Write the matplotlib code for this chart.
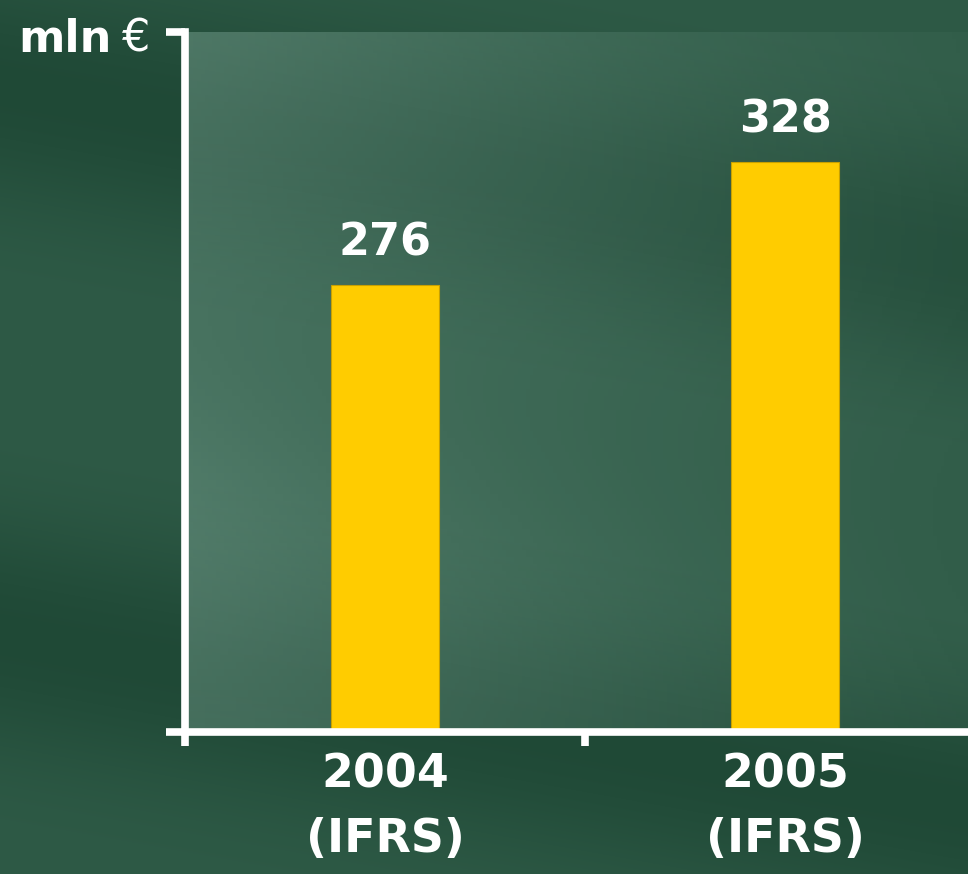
import numpy as np
import matplotlib.pyplot as plt
from matplotlib.ticker import FixedLocator

anni = ['2004\n(IFRS)', '2005\n(IFRS)']
valori = [276, 328]
etichette = ['276', '328']

GIALLO = '#ffcc00'
BIANCO = 'white'

fig = plt.figure(figsize=(9.68, 8.74), dpi=100)

# sfondo verde con qualche striatura quasi orizzontale
bg = fig.add_axes([0, 0, 1, 1], zorder=-10)
h, w = 874, 968
yy, xx = np.mgrid[0:h, 0:w]
diag = (yy - 0.18 * xx) / h
base = np.array([46, 90, 70]) / 255.0
scuro = np.array([22, 62, 44]) / 255.0
t = 0.5 + 0.5 * np.sin(diag * 10.0 + 0.6)
t = t ** 2
img = base[None, None, :] * (1 - t[..., None] * 0.6) + scuro[None, None, :] * (t[..., None] * 0.6)
img = np.clip(img, 0, 1)
bg.imshow(img, aspect='auto', extent=[0, 1, 0, 1], origin='upper')
bg.axis('off')

ax = fig.add_axes([185 / 968, 142 / 874, 783 / 968, 700 / 874])
ax.set_facecolor('none')

# velatura chiara dell'area del grafico
gy, gx = np.mgrid[0:100, 0:200]
alpha = 0.28 * (1 - gx / 200.0) ** 1.2 + 0.06
alpha = alpha * (0.85 + 0.15 * np.cos((gy / 100.0 - 0.3 * gx / 200.0) * 8))
over = np.ones((100, 200, 4))
over[..., 0] = 0.62
over[..., 1] = 0.78
over[..., 2] = 0.72
over[..., 3] = alpha
ax.imshow(over, extent=[0, 1, 0, 1], transform=ax.transAxes, aspect='auto', zorder=0)

X = np.arange(len(valori))
ymin, ymax = 87, 383
ax.bar(X, [v - ymin for v in valori], bottom=ymin, width=0.27, color=GIALLO,
       edgecolor='#c8a000', linewidth=0.8, zorder=2)

for x, v, lab in zip(X, valori, etichette):
    ax.annotate(lab, (x, v), xytext=(0, 15), textcoords='offset points',
                ha='center', va='bottom', color=BIANCO, fontsize=32,
                fontweight='bold', family='DejaVu Sans')

ax.set_xlim(-0.5, -0.5 + 783 / 400)
ax.set_ylim(ymin, ymax)

for s in ['top', 'right']:
    ax.spines[s].set_visible(False)
for s in ['left', 'bottom']:
    ax.spines[s].set_color(BIANCO)
    ax.spines[s].set_linewidth(5.5)
    ax.spines[s].set_zorder(5)

ax.set_xticks(X)
ax.set_xticklabels(anni, color=BIANCO, fontsize=33, fontweight='bold',
                   family='DejaVu Sans', linespacing=1.55)
ax.tick_params(axis='x', which='major', length=0, pad=15)
ax.xaxis.set_minor_locator(FixedLocator([-0.5, 0.5, 1.5]))
ax.tick_params(axis='x', which='minor', length=10, width=5.5, color=BIANCO, direction='out')
ax.set_yticks([ymin, ymax])
ax.set_yticklabels([])
ax.tick_params(axis='y', length=14, width=5.5, color=BIANCO, direction='out')

fig.text(18 / 968, 1 - 52 / 874, 'mln', color=BIANCO, fontsize=32,
         fontweight='bold', family='DejaVu Sans', va='baseline', ha='left')
fig.text(122 / 968, 1 - 52 / 874, '€', color=BIANCO, fontsize=32,
         family='DejaVu Sans', va='baseline', ha='left')

fig.savefig('out.png', dpi=100)
